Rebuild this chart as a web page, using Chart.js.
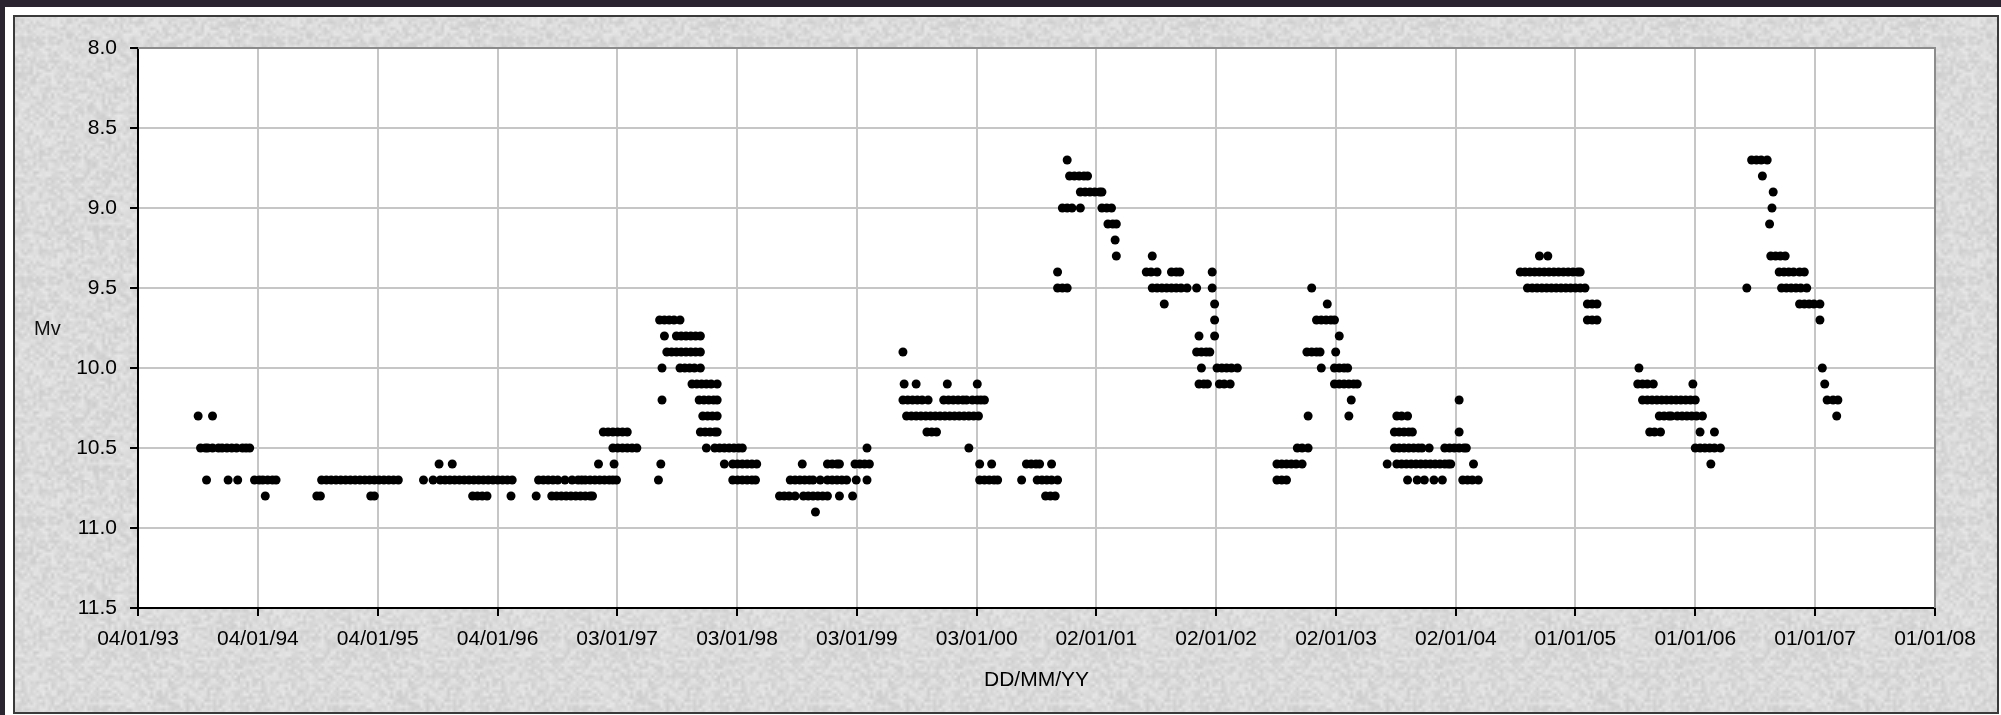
<!DOCTYPE html>
<html>
<head>
<meta charset="utf-8">
<title>Mv light curve 1993-2008</title>
<script src="https://cdn.jsdelivr.net/npm/chart.js@4/dist/chart.umd.min.js"></script>
<style>
  html, body { margin: 0; padding: 0; background: #2a2430; overflow: hidden; }
  #wrap { position: relative; width: 2001px; height: 715px; }
  canvas { display: block; }
</style>
</head>
<body>
<div id="wrap"><canvas id="lc" width="2001" height="715"></canvas></div>
<script>
// Visual magnitude estimates, grouped by observing season.
// Each row: [magnitude, [dates as decimal years]]
const obs1993 = [
  [10.3, [1993.51, 1993.63]],
  [10.5, [1993.53, 1993.57, 1993.59, 1993.63, 1993.68, 1993.71, 1993.75, 1993.79, 1993.83, 1993.88, 1993.91, 1993.94]],
  [10.7, [1993.58, 1993.76, 1993.84, 1993.98, 1994.02, 1994.05, 1994.09, 1994.13, 1994.16]],
  [10.8, [1994.07]]
];
const obs1994 = [
  [10.7, [1994.54, 1994.58, 1994.62, 1994.66, 1994.70, 1994.74, 1994.78, 1994.82, 1994.86, 1994.90, 1994.94, 1994.98, 1995.02, 1995.06, 1995.10, 1995.14, 1995.18]],
  [10.8, [1994.50, 1994.53, 1994.95, 1994.98]]
];
const obs1995 = [
  [10.6, [1995.52, 1995.63]],
  [10.7, [1995.39, 1995.47, 1995.53, 1995.57, 1995.61, 1995.65, 1995.69, 1995.73, 1995.77, 1995.81, 1995.85, 1995.89, 1995.93, 1995.97, 1996.01, 1996.05, 1996.09, 1996.13]],
  [10.8, [1995.80, 1995.84, 1995.88, 1995.92, 1996.12]]
];
const obs1996 = [
  [10.4, [1996.89, 1996.93, 1996.97, 1997.01, 1997.05, 1997.09]],
  [10.5, [1996.97, 1997.01, 1997.05, 1997.09, 1997.13, 1997.17]],
  [10.6, [1996.85, 1996.98]],
  [10.7, [1996.35, 1996.39, 1996.43, 1996.47, 1996.51, 1996.57, 1996.63, 1996.68, 1996.71, 1996.74, 1996.78, 1996.82, 1996.86, 1996.90, 1996.94, 1996.97, 1997.00]],
  [10.8, [1996.33, 1996.46, 1996.50, 1996.54, 1996.58, 1996.62, 1996.66, 1996.70, 1996.74, 1996.78, 1996.80]]
];
const obs1997 = [
  [9.7, [1997.36, 1997.40, 1997.44, 1997.48, 1997.53]],
  [9.8, [1997.40, 1997.50, 1997.54, 1997.58, 1997.62, 1997.66, 1997.70]],
  [9.9, [1997.42, 1997.46, 1997.50, 1997.54, 1997.58, 1997.62, 1997.66, 1997.70]],
  [10.0, [1997.38, 1997.53, 1997.57, 1997.61, 1997.65, 1997.70]],
  [10.1, [1997.63, 1997.67, 1997.71, 1997.75, 1997.79, 1997.84]],
  [10.2, [1997.38, 1997.69, 1997.73, 1997.77, 1997.81, 1997.84]],
  [10.3, [1997.72, 1997.76, 1997.80, 1997.84]],
  [10.4, [1997.70, 1997.74, 1997.78, 1997.82, 1997.84]],
  [10.5, [1997.75, 1997.82, 1997.86, 1997.90, 1997.94, 1997.98, 1998.02, 1998.05]],
  [10.6, [1997.37, 1997.90, 1997.97, 1998.01, 1998.05, 1998.09, 1998.13, 1998.17]],
  [10.7, [1997.35, 1997.97, 1998.01, 1998.05, 1998.09, 1998.13, 1998.16]]
];
const obs1998 = [
  [10.5, [1999.09]],
  [10.6, [1998.55, 1998.76, 1998.80, 1998.84, 1998.86, 1998.99, 1999.03, 1999.07, 1999.11]],
  [10.7, [1998.45, 1998.49, 1998.53, 1998.57, 1998.61, 1998.64, 1998.70, 1998.76, 1998.80, 1998.84, 1998.88, 1998.92, 1999.00, 1999.09]],
  [10.8, [1998.36, 1998.40, 1998.44, 1998.49, 1998.56, 1998.60, 1998.64, 1998.68, 1998.72, 1998.76, 1998.86, 1998.97]],
  [10.9, [1998.66]]
];
const obs1999 = [
  [9.9, [1999.39]],
  [10.1, [1999.40, 1999.50, 1999.76, 2000.01]],
  [10.2, [1999.39, 1999.43, 1999.47, 1999.51, 1999.55, 1999.60, 1999.73, 1999.77, 1999.81, 1999.85, 1999.89, 1999.92, 1999.97, 2000.01, 2000.04, 2000.07]],
  [10.3, [1999.42, 1999.46, 1999.50, 1999.54, 1999.58, 1999.62, 1999.66, 1999.70, 1999.74, 1999.78, 1999.82, 1999.86, 1999.90, 1999.94, 1999.98, 2000.02]],
  [10.4, [1999.59, 1999.63, 1999.67]],
  [10.5, [1999.94]],
  [10.6, [2000.03, 2000.13]],
  [10.7, [2000.03, 2000.07, 2000.11, 2000.15, 2000.18]]
];
const obs2000 = [
  [8.7, [2000.76]],
  [8.8, [2000.78, 2000.82, 2000.86, 2000.90, 2000.93]],
  [8.9, [2000.87, 2000.91, 2000.95, 2000.99, 2001.03, 2001.05]],
  [9.0, [2000.72, 2000.76, 2000.80, 2000.87, 2001.05, 2001.09, 2001.13]],
  [9.1, [2001.10, 2001.14, 2001.17]],
  [9.2, [2001.16]],
  [9.3, [2001.17]],
  [9.4, [2000.68]],
  [9.5, [2000.68, 2000.72, 2000.76]],
  [10.6, [2000.42, 2000.46, 2000.50, 2000.53, 2000.63]],
  [10.7, [2000.38, 2000.51, 2000.55, 2000.59, 2000.63, 2000.68]],
  [10.8, [2000.58, 2000.62, 2000.66]]
];
const obs2001 = [
  [9.3, [2001.47]],
  [9.4, [2001.42, 2001.46, 2001.51, 2001.63, 2001.67, 2001.70, 2001.97]],
  [9.5, [2001.47, 2001.51, 2001.55, 2001.59, 2001.63, 2001.67, 2001.71, 2001.76, 2001.84, 2001.97]],
  [9.6, [2001.57, 2001.99]],
  [9.7, [2001.99]],
  [9.8, [2001.86, 2001.99]],
  [9.9, [2001.84, 2001.88, 2001.92, 2001.95]],
  [10.0, [2001.88, 2002.01, 2002.05, 2002.09, 2002.13, 2002.18]],
  [10.1, [2001.86, 2001.90, 2001.93, 2002.03, 2002.07, 2002.12]]
];
const obs2002 = [
  [9.5, [2002.80]],
  [9.6, [2002.93]],
  [9.7, [2002.84, 2002.88, 2002.92, 2002.96, 2002.99]],
  [9.8, [2003.03]],
  [9.9, [2002.76, 2002.80, 2002.84, 2002.87, 2003.00]],
  [10.0, [2002.88, 2002.99, 2003.03, 2003.07, 2003.10]],
  [10.1, [2002.99, 2003.03, 2003.07, 2003.11, 2003.15, 2003.18]],
  [10.2, [2003.13]],
  [10.3, [2002.77, 2003.11]],
  [10.5, [2002.68, 2002.72, 2002.77]],
  [10.6, [2002.51, 2002.55, 2002.59, 2002.63, 2002.67, 2002.72]],
  [10.7, [2002.51, 2002.55, 2002.59]]
];
const obs2003 = [
  [10.2, [2004.03]],
  [10.3, [2003.51, 2003.55, 2003.60]],
  [10.4, [2003.49, 2003.53, 2003.57, 2003.61, 2003.64, 2004.03]],
  [10.5, [2003.49, 2003.53, 2003.57, 2003.61, 2003.65, 2003.69, 2003.72, 2003.78, 2003.91, 2003.95, 2003.99, 2004.03, 2004.07, 2004.09]],
  [10.6, [2003.43, 2003.51, 2003.55, 2003.59, 2003.63, 2003.67, 2003.71, 2003.75, 2003.79, 2003.83, 2003.87, 2003.91, 2003.94, 2003.96, 2004.15]],
  [10.7, [2003.60, 2003.68, 2003.74, 2003.82, 2003.89, 2004.06, 2004.10, 2004.14, 2004.19]]
];
const obs2004 = [
  [9.3, [2004.70, 2004.77]],
  [9.4, [2004.54, 2004.58, 2004.62, 2004.66, 2004.70, 2004.74, 2004.78, 2004.82, 2004.86, 2004.90, 2004.94, 2004.98, 2005.02, 2005.04]],
  [9.5, [2004.60, 2004.64, 2004.68, 2004.72, 2004.76, 2004.80, 2004.84, 2004.88, 2004.92, 2004.96, 2005.00, 2005.04, 2005.08]],
  [9.6, [2005.10, 2005.14, 2005.18]],
  [9.7, [2005.10, 2005.14, 2005.18]]
];
const obs2005 = [
  [10.0, [2005.53]],
  [10.1, [2005.52, 2005.56, 2005.60, 2005.65, 2005.98]],
  [10.2, [2005.56, 2005.60, 2005.64, 2005.68, 2005.72, 2005.76, 2005.80, 2005.84, 2005.88, 2005.92, 2005.96, 2006.00]],
  [10.3, [2005.70, 2005.74, 2005.78, 2005.80, 2005.85, 2005.89, 2005.93, 2005.97, 2006.01, 2006.06]],
  [10.4, [2005.62, 2005.66, 2005.71, 2006.04, 2006.16]],
  [10.5, [2006.00, 2006.04, 2006.08, 2006.12, 2006.16, 2006.21]],
  [10.6, [2006.13]]
];
const obs2006 = [
  [8.7, [2006.47, 2006.51, 2006.55, 2006.60]],
  [8.8, [2006.56]],
  [8.9, [2006.65]],
  [9.0, [2006.64]],
  [9.1, [2006.62]],
  [9.3, [2006.63, 2006.67, 2006.71, 2006.75]],
  [9.4, [2006.70, 2006.74, 2006.78, 2006.82, 2006.87, 2006.91]],
  [9.5, [2006.43, 2006.72, 2006.76, 2006.80, 2006.84, 2006.88, 2006.93]],
  [9.6, [2006.87, 2006.91, 2006.95, 2006.99, 2007.04]],
  [9.7, [2007.04]],
  [10.0, [2007.06]],
  [10.1, [2007.08]],
  [10.2, [2007.10, 2007.15, 2007.19]],
  [10.3, [2007.18]]
];

const seasons = [obs1993, obs1994, obs1995, obs1996, obs1997, obs1998, obs1999,
                 obs2000, obs2001, obs2002, obs2003, obs2004, obs2005, obs2006];

// Date axis labels (one every 365 days) and magnitude axis range
const dateTickLabels = ['04/01/93', '04/01/94', '04/01/95', '04/01/96', '03/01/97', '03/01/98',
  '03/01/99', '03/01/00', '02/01/01', '02/01/02', '02/01/03', '02/01/04', '01/01/05',
  '01/01/06', '01/01/07', '01/01/08'];
const magTicks = [8.0, 8.5, 9.0, 9.5, 10.0, 10.5, 11.0, 11.5];

// DD/MM/YY -> decimal year
function toDecimalYear(label) {
  const [d, m, yy] = label.split('/').map(Number);
  const yr = yy < 50 ? 2000 + yy : 1900 + yy;
  const start = Date.UTC(yr, 0, 1), end = Date.UTC(yr + 1, 0, 1);
  return yr + (Date.UTC(yr, m - 1, d) - start) / (end - start);
}
const dateTickValues = dateTickLabels.map(toDecimalYear);

const points = [];
seasons.forEach(season => season.forEach(([mag, dates]) =>
  dates.forEach(t => points.push({ x: t, y: mag }))));

const FONT = 'Liberation Sans, Arial, Helvetica, sans-serif';

// Mottled grey fill used for the panel behind the plot
function makeGrain() {
  const n = 80;
  const c = document.createElement('canvas');
  c.width = n; c.height = n;
  const g = c.getContext('2d');
  const img = g.createImageData(n, n);
  for (let j = 0; j < n; j++) {
    for (let i = 0; i < n; i++) {
      const h = Math.sin(i * 12.9898 + j * 78.233) * 43758.5453;
      const f = h - Math.floor(h);
      const v = Math.round(218 + (f - 0.5) * 26);
      const k = (j * n + i) * 4;
      img.data[k] = v; img.data[k + 1] = v; img.data[k + 2] = v; img.data[k + 3] = 255;
    }
  }
  g.putImageData(img, 0, 0);
  const big = document.createElement('canvas');
  big.width = n * 3; big.height = n * 3;
  const bg = big.getContext('2d');
  bg.imageSmoothingEnabled = true;
  bg.drawImage(c, 0, 0, n * 3, n * 3);
  return big;
}
const grain = makeGrain();

const framePlugin = {
  id: 'frame',
  beforeDraw(chart) {
    const { ctx, width, height, chartArea: a } = chart;
    ctx.save();
    ctx.fillStyle = '#2a2430';
    ctx.fillRect(0, 0, width, height);
    ctx.fillStyle = '#ffffff';
    ctx.fillRect(5, 7, width - 5, height - 7);
    ctx.fillStyle = ctx.createPattern(grain, 'repeat');
    ctx.fillRect(14, 16, 1984, 697);
    ctx.strokeStyle = '#3a3a3a';
    ctx.lineWidth = 2;
    ctx.strokeRect(14, 16, 1984, 697);
    ctx.fillStyle = '#ffffff';
    ctx.fillRect(a.left, a.top, a.right - a.left, a.bottom - a.top);
    ctx.restore();
  },
  beforeDatasetsDraw(chart) {
    const { ctx, chartArea: a } = chart;
    ctx.save();
    ctx.strokeStyle = '#8c8c8c';
    ctx.lineWidth = 2;
    ctx.beginPath();
    ctx.moveTo(a.left, a.top);
    ctx.lineTo(a.right, a.top);
    ctx.lineTo(a.right, a.bottom);
    ctx.stroke();
    ctx.restore();
  },
  afterDraw(chart) {
    const { ctx, chartArea: a } = chart;
    ctx.save();
    ctx.fillStyle = '#111';
    ctx.font = '20px ' + FONT;
    ctx.textAlign = 'left';
    ctx.textBaseline = 'middle';
    ctx.fillText('Mv', 34, (a.top + a.bottom) / 2 + 1);
    ctx.restore();
  }
};

new Chart(document.getElementById('lc'), {
  type: 'scatter',
  data: {
    datasets: [{
      label: 'Mv',
      data: points,
      pointStyle: 'circle',
      pointRadius: 4.5,
      pointBorderWidth: 0,
      pointBackgroundColor: '#000',
      pointBorderColor: '#000'
    }]
  },
  options: {
    responsive: false,
    devicePixelRatio: 1,
    animation: false,
    events: [],
    layout: { padding: { left: 0, top: 48, right: 66, bottom: 0 } },
    plugins: { legend: { display: false }, tooltip: { enabled: false } },
    scales: {
      x: {
        type: 'linear',
        min: dateTickValues[0],
        max: dateTickValues[dateTickValues.length - 1],
        afterBuildTicks(scale) { scale.ticks = dateTickValues.map(v => ({ value: v })); },
        afterFit(scale) { scale.height = 107; },
        ticks: {
          autoSkip: false, maxRotation: 0, minRotation: 0, padding: 11,
          color: '#000', font: { family: FONT, size: 21 },
          callback: (v, i) => dateTickLabels[i]
        },
        grid: { color: '#c6c6c6', lineWidth: 2, tickLength: 8, tickColor: '#000', tickWidth: 2 },
        border: { color: '#000', width: 2 },
        title: {
          display: true, text: 'DD/MM/YY', color: '#000',
          font: { family: FONT, size: 21 }, padding: { top: 0, bottom: 22 }
        }
      },
      y: {
        type: 'linear',
        reverse: true,
        min: magTicks[0],
        max: magTicks[magTicks.length - 1],
        afterBuildTicks(scale) { scale.ticks = magTicks.map(v => ({ value: v })); },
        afterFit(scale) { scale.width = 138; },
        ticks: {
          padding: 13, color: '#000', font: { family: FONT, size: 21 },
          callback: v => Number(v).toFixed(1)
        },
        grid: { color: '#c6c6c6', lineWidth: 2, tickLength: 8, tickColor: '#000', tickWidth: 2 },
        border: { color: '#000', width: 2 }
      }
    }
  },
  plugins: [framePlugin]
});
</script>
</body>
</html>
